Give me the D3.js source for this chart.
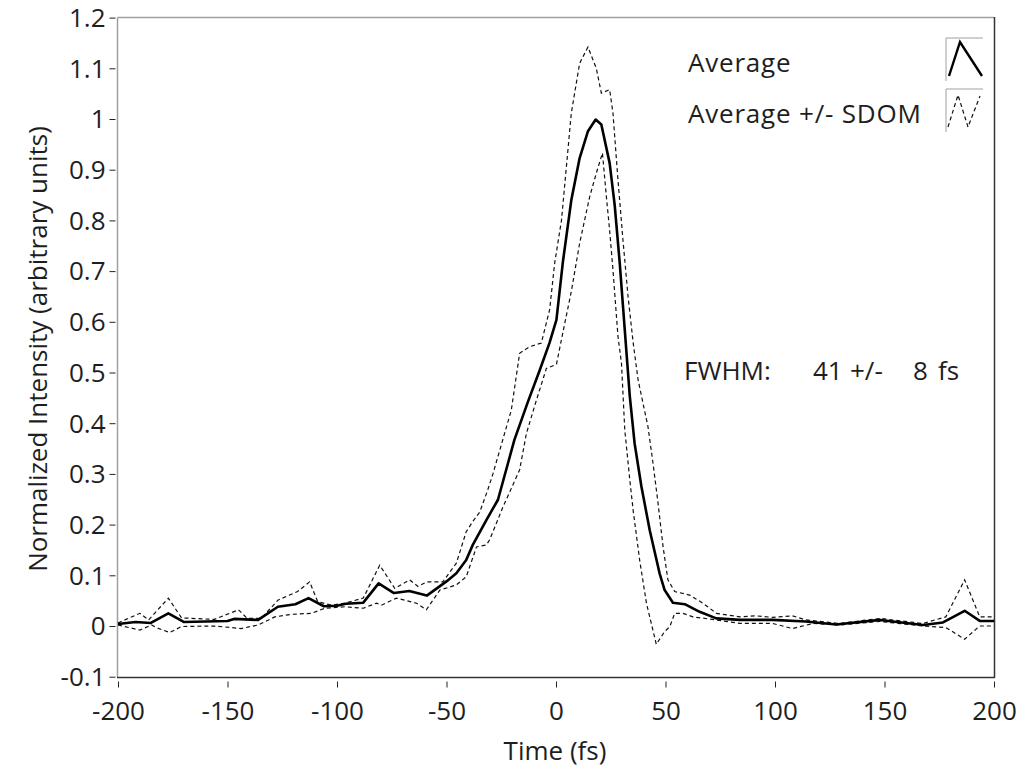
<!DOCTYPE html>
<html>
<head>
<meta charset="utf-8">
<script src="https://cdn.jsdelivr.net/npm/d3@7/dist/d3.min.js"></script>
<style>
  html, body { margin: 0; padding: 0; background: #fff; }
  svg { display: block; }
  text { font-family: "Open Sans", "Noto Sans", sans-serif; fill: #1e1e1e; }
</style>
</head>
<body>
<svg id="chart" width="1029" height="772"></svg>
<script>
/*
Average curve (time in fs, normalized intensity) */
var avgTime = [-200, -192, -185, -177, -170, -160, -150, -147, -136, -127, -119, -113, -106, -100, -96, -88,
               -81, -74, -67, -59, -50, -45.5, -41, -38, -31.8, -26.5, -19, -13, -7.4, -3, 0.2, 3.2,
               7, 10.8, 14.6, 18.1, 20.7, 24.5, 26.8, 29.1, 31.4, 33.7, 35.9, 39, 42.8, 47.3, 49.6,
               53.4, 58.8, 65.6, 73.2, 84, 99, 114, 128, 148, 167.6, 176.7, 186.6, 193.5, 200];
var avgValue = [0.004, 0.008, 0.006, 0.025, 0.008, 0.009, 0.010, 0.014, 0.012, 0.038, 0.043, 0.055, 0.039, 0.040, 0.044, 0.046,
                0.084, 0.065, 0.069, 0.060, 0.088, 0.104, 0.130, 0.160, 0.209, 0.249, 0.367, 0.440, 0.505, 0.558, 0.604, 0.720,
                0.840, 0.923, 0.976, 0.999, 0.989, 0.913, 0.830, 0.716, 0.584, 0.453, 0.360, 0.275, 0.189, 0.104, 0.071,
                0.046, 0.043, 0.028, 0.015, 0.012, 0.012, 0.009, 0.003, 0.012, 0.002, 0.007, 0.030, 0.010, 0.010];

/*
Average + SDOM */
var upperTime = [-200, -190, -186, -177, -171, -156, -145, -141, -134.5, -127, -118, -112.5, -108.8, -102.6, -96.5, -88,
                 -80.5, -73.6, -66.8, -63, -59, -51.7, -45.5, -41, -38, -34.8, -31.2, -28.8, -20.4, -16.6, -12, -6.7,
                 -2.9, -0.6, 2.5, 7, 10.8, 14.6, 18.4, 20.7, 24.5, 26, 28.3, 30.6, 32.9, 35.2, 37.5, 42, 44.3,
                 46.6, 48.9, 51.1, 54.2, 61, 67.1, 73.2, 84, 91.5, 99, 108, 114, 129.5, 148, 167.4, 178, 186.6, 193.5, 200];
var upperValue = [0.006, 0.025, 0.012, 0.055, 0.016, 0.013, 0.032, 0.015, 0.015, 0.051, 0.068, 0.087, 0.048, 0.041, 0.045, 0.055,
                  0.120, 0.074, 0.091, 0.078, 0.087, 0.087, 0.124, 0.186, 0.206, 0.225, 0.268, 0.300, 0.426, 0.538, 0.551, 0.558,
                  0.624, 0.716, 0.800, 1.012, 1.110, 1.142, 1.100, 1.051, 1.058, 1.012, 0.880, 0.760, 0.650, 0.560, 0.485, 0.393, 0.321,
                  0.242, 0.156, 0.091, 0.068, 0.061, 0.045, 0.025, 0.018, 0.020, 0.017, 0.020, 0.012, 0.005, 0.015, 0.005, 0.018, 0.091, 0.018, 0.018];

/*
Average - SDOM */
var lowerTime = [-200, -190, -184.7, -182, -176.4, -171, -156, -143.7, -136, -128.4, -120.8, -111.7, -105.6, -96.5, -88, -82,
                 -79.7, -72.9, -63.7, -59.2, -53, -45.5, -41, -36.3, -31.8, -30.3, -24.2, -16.6, -13.5, -8.9, -4.4, 0.2,
                 3.2, 7, 10.8, 15.4, 18.4, 21.2, 23, 24.5, 26, 28.3, 29.9, 31.4, 33.7, 35.2, 38.2, 41.3, 45.8,
                 49.6, 52, 54.2, 58, 62.5, 73.2, 84, 99, 108, 117.4, 129.5, 148, 167.4, 178, 186.6, 193.5, 200];
var lowerValue = [0.002, -0.008, 0.002, -0.004, -0.013, -0.001, 0.000, -0.005, 0.002, 0.018, 0.023, 0.025, 0.035, 0.038, 0.035, 0.045,
                  0.041, 0.055, 0.045, 0.032, 0.071, 0.081, 0.097, 0.156, 0.160, 0.170, 0.235, 0.308, 0.380, 0.446, 0.508, 0.516,
                  0.580, 0.660, 0.755, 0.847, 0.893, 0.933, 0.847, 0.780, 0.703, 0.571, 0.518, 0.387, 0.288, 0.229, 0.130, 0.045, -0.036,
                  -0.011, -0.001, 0.025, 0.025, 0.018, 0.012, 0.005, 0.005, -0.005, 0.005, 0.002, 0.009, 0.000, -0.003, -0.026, 0.000, 0.000];

/*
Tick values */
var xTicks = [-200, -150, -100, -50, 0, 50, 100, 150, 200];
var yTicks = [-0.1, 0, 0.1, 0.2, 0.3, 0.4, 0.5, 0.6, 0.7, 0.8, 0.9, 1, 1.1, 1.2];

var fontSize = 26;

var svg = d3.select("#chart");

var x = d3.scaleLinear().domain([-200, 200]).range([118, 994]);
var y = d3.scaleLinear().domain([-0.1, 1.2]).range([676.7, 17.6]);

function zip(ts, vs) {
	return ts.map(function(t, i) { return [t, vs[i]]; });
}

// plain hyphen for negatives, as in the original
function plain(d) { return String(+d.toFixed(1)); }

/*
Axes: ticks sit a little outside the frame, like the original */
var yAxis = d3.axisLeft(y).tickValues(yTicks).tickSize(6).tickPadding(4).tickFormat(plain);
var gy = svg.append("g").attr("transform", "translate(115.5,0)").call(yAxis);
gy.select(".domain").remove();
gy.selectAll("line").attr("stroke", "#222");
gy.selectAll("text").style("font-size", fontSize + "px").attr("fill", "#1e1e1e");
gy.selectAll(".tick text").attr("dy", "0.34em");

var xAxis = d3.axisBottom(x).tickValues(xTicks).tickSize(6).tickPadding(14).tickFormat(plain);
var gx = svg.append("g").attr("transform", "translate(0,681.5)").call(xAxis);
gx.select(".domain").remove();
gx.selectAll("line").attr("stroke", "#222");
gx.selectAll("text").style("font-size", fontSize + "px").attr("fill", "#1e1e1e");

/*
Frame: top and left are light grey, bottom and right dark */
svg.append("line").attr("x1", 117.5).attr("x2", 994).attr("y1", 17.5).attr("y2", 17.5)
	.attr("stroke", "#a0a0a0").attr("stroke-width", 1.5);
svg.append("line").attr("x1", 117.5).attr("x2", 117.5).attr("y1", 17.5).attr("y2", 677)
	.attr("stroke", "#a0a0a0").attr("stroke-width", 1.5);
svg.append("line").attr("x1", 117).attr("x2", 994.5).attr("y1", 677.5).attr("y2", 677.5)
	.attr("stroke", "#333").attr("stroke-width", 1.5);
svg.append("line").attr("x1", 994.5).attr("x2", 994.5).attr("y1", 17).attr("y2", 678)
	.attr("stroke", "#333").attr("stroke-width", 1.5);

/*
Curves */
var line = d3.line().x(function(d) { return x(d[0]); }).y(function(d) { return y(d[1]); });

svg.append("path").datum(zip(upperTime, upperValue)).attr("d", line)
	.attr("fill", "none").attr("stroke", "#111").attr("stroke-width", 1.2).attr("stroke-dasharray", "4,3");
svg.append("path").datum(zip(lowerTime, lowerValue)).attr("d", line)
	.attr("fill", "none").attr("stroke", "#111").attr("stroke-width", 1.2).attr("stroke-dasharray", "4,3");
svg.append("path").datum(zip(avgTime, avgValue)).attr("d", line)
	.attr("fill", "none").attr("stroke", "#000").attr("stroke-width", 2.6).attr("stroke-linejoin", "round");

/*
Axis titles */
svg.append("text").attr("x", 555).attr("y", 760).attr("text-anchor", "middle")
	.style("font-size", fontSize + "px").text("Time (fs)");
svg.append("text").attr("transform", "translate(47,349) rotate(-90)").attr("text-anchor", "middle")
	.style("font-size", fontSize + "px").text("Normalized Intensity (arbitrary units)");

/*
Legend */
svg.append("text").attr("x", 688).attr("y", 72).style("font-size", fontSize + "px")
	.style("letter-spacing", "0.8px").text("Average");
svg.append("text").attr("x", 688).attr("y", 123).style("font-size", fontSize + "px")
	.style("letter-spacing", "0.8px").text("Average +/- SDOM");

function swatch(top) {
	var g = svg.append("g");
	g.append("path").attr("d", "M946," + (top + 43) + "V" + top + "H983")
		.attr("fill", "none").attr("stroke", "#a0a0a0").attr("stroke-width", 1);
	return g;
}
swatch(38).append("path").attr("d", "M949,76L960,42L982,76")
	.attr("fill", "none").attr("stroke", "#000").attr("stroke-width", 2.4);
swatch(89).append("path").attr("d", "M948,127L958,95L968,127L980,96")
	.attr("fill", "none").attr("stroke", "#111").attr("stroke-width", 1.2).attr("stroke-dasharray", "4,3");

/*
FWHM note */
var note = svg.append("text").attr("y", 380).style("font-size", fontSize + "px");
note.append("tspan").attr("x", 684).text("FWHM:");
note.append("tspan").attr("x", 813).text("41");
note.append("tspan").attr("x", 850).text("+/-");
note.append("tspan").attr("x", 913).text("8");
note.append("tspan").attr("x", 938).text("fs");
</script>
</body>
</html>
